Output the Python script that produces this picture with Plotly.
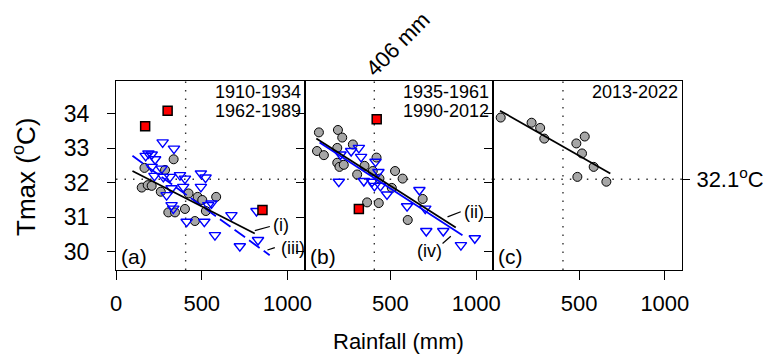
import plotly.graph_objects as go

# ---------------- data ----------------
# Panel (a): 1910-1934 (grey circles), 1962-1989 (blue triangles), outliers (red squares)
a_circ_x = [166, 150, 185, 208, 261, 336, 286, 305, 344, 402, 423, 476, 503, 524, 584, 460]
a_circ_y = [32.43, 31.86, 31.93, 31.91, 31.74, 32.68, 32.37, 31.14, 31.14, 31.24, 31.69, 31.59, 31.50, 31.18, 31.59, 30.89]
a_tri_x = [272, 338, 189, 208, 228, 173, 208, 266, 224, 276, 315, 373, 402, 495, 522, 495, 392, 324, 295, 324,
           334, 538, 557, 412, 515, 577, 673, 722, 828, 819]
a_tri_y = [33.17, 32.99, 32.85, 32.82, 32.68, 32.78, 32.46, 32.41, 32.20, 32.17, 32.17, 32.22, 32.12, 32.27, 32.15,
           31.88, 31.88, 31.84, 31.64, 31.35, 31.25, 31.35, 31.40, 30.87, 30.87, 30.48, 31.06, 30.16, 30.34, 31.18]
a_sq_x = [170, 301, 854]
a_sq_y = [33.64, 34.09, 31.21]
a_fit_i_x = [96, 809]
a_fit_i_y = [32.34, 30.53]
a_fit_iii_x = [96, 896]
a_fit_iii_y = [32.78, 29.90]

# Panel (b): 1935-1961 (grey circles), 1990-2012 (blue triangles)
b_circ_x = [83, 72, 112, 194, 219, 190, 281, 190, 203, 228, 306, 349, 397, 419, 436, 527, 571, 508, 364, 432, 688, 601]
b_circ_y = [33.46, 32.92, 32.80, 33.53, 33.31, 33.01, 33.11, 32.58, 32.46, 32.52, 32.24, 32.49, 32.34, 32.73, 32.12,
            32.34, 32.12, 31.85, 31.43, 31.41, 31.53, 30.92]
b_tri_x = [209, 271, 316, 329, 413, 199, 345, 393, 407, 442, 430, 480, 669, 597, 703, 709, 808, 911, 992]
b_tri_y = [32.82, 32.92, 33.01, 32.75, 32.61, 32.03, 32.05, 32.03, 31.91, 31.91, 32.31, 31.66, 31.79, 31.32, 31.25,
           30.60, 30.60, 30.19, 30.39]
b_sq_x = [420, 316]
b_sq_y = [33.84, 31.24]
b_fit_ii_x = [68, 881]
b_fit_ii_y = [33.28, 30.70]
b_fit_iv_x = [87, 920]
b_fit_iv_y = [33.17, 30.48]

# Panel (c): 2013-2022
c_circ_x = [43, 223, 273, 297, 484, 533, 517, 585, 490, 659]
c_circ_y = [33.89, 33.74, 33.59, 33.28, 33.14, 33.34, 32.85, 32.46, 32.17, 32.03]
c_fit_x = [39, 682]
c_fit_y = [34.09, 32.27]

rain_threshold = 406
tmax_threshold = 32.1
x_ticks_a = [0, 500, 1000]
x_ticks_bc = [500, 1000]
y_ticks = [30, 31, 32, 33, 34]
x_range = [0, 1100]
y_range = [29.47, 34.95]

FONT = "Arial"
GREY = "#a6a6a6"
BLUE = "#0000ff"
RED = "#ff0000"

fig = go.Figure()


def circles(x, y, xa, ya):
    fig.add_trace(go.Scatter(x=x, y=y, mode="markers", xaxis=xa, yaxis=ya, showlegend=False,
                             marker=dict(symbol="circle", size=9, color=GREY,
                                         line=dict(color="black", width=1))))


def triangles(x, y, xa, ya):
    fig.add_trace(go.Scatter(x=x, y=y, mode="markers", xaxis=xa, yaxis=ya, showlegend=False,
                             marker=dict(symbol="triangle-down-open", size=10, color=BLUE,
                                         line=dict(color=BLUE, width=1.4))))


def squares(x, y, xa, ya):
    fig.add_trace(go.Scatter(x=x, y=y, mode="markers", xaxis=xa, yaxis=ya, showlegend=False,
                             marker=dict(symbol="square", size=9, color=RED,
                                         line=dict(color="black", width=1.5))))


def fit(x, y, xa, ya, color, dash="solid"):
    fig.add_trace(go.Scatter(x=x, y=y, mode="lines", xaxis=xa, yaxis=ya, showlegend=False,
                             line=dict(color=color, width=1.8, dash=dash)))


# panel a
circles(a_circ_x, a_circ_y, "x", "y")
triangles(a_tri_x, a_tri_y, "x", "y")
fit(a_fit_iii_x, a_fit_iii_y, "x", "y", BLUE, "13px,5px")
fit(a_fit_i_x, a_fit_i_y, "x", "y", "black")
squares(a_sq_x, a_sq_y, "x", "y")
# panel b
circles(b_circ_x, b_circ_y, "x2", "y2")
triangles(b_tri_x, b_tri_y, "x2", "y2")
fit(b_fit_iv_x, b_fit_iv_y, "x2", "y2", BLUE)
fit(b_fit_ii_x, b_fit_ii_y, "x2", "y2", "black")
squares(b_sq_x, b_sq_y, "x2", "y2")
# panel c
circles(c_circ_x, c_circ_y, "x3", "y3")
fit(c_fit_x, c_fit_y, "x3", "y3", "black")

# invisible trace so the right-hand axis of panel c is drawn
fig.add_trace(go.Scatter(x=[0], y=[tmax_threshold], xaxis="x3", yaxis="y4", mode="markers",
                         marker=dict(opacity=0), showlegend=False, hoverinfo="skip"))

axis_common = dict(showline=True, mirror=True, linecolor="black", linewidth=1.3, automargin=False,
                   ticks="outside", tickwidth=1.3, tickcolor="black", showgrid=False, zeroline=False,
                   tickfont=dict(family=FONT, size=22, color="black"))
y_font = dict(family=FONT, size=23, color="black")

# the page body has an 8px margin, so the figure is 8px smaller than the window
fig.update_layout(
    width=763, height=350,
    margin=dict(l=108, r=89, t=73, b=88, autoexpand=False),
    paper_bgcolor="white", plot_bgcolor="white",
    font=dict(family=FONT, color="black"),
    xaxis=dict(domain=[0, 1 / 3], anchor="y", range=x_range, tickvals=x_ticks_a, ticklen=9,
               ticklabelstandoff=4, **axis_common),
    xaxis2=dict(domain=[1 / 3, 2 / 3], anchor="y2", range=x_range, tickvals=x_ticks_bc, ticklen=9,
                ticklabelstandoff=4, **axis_common),
    xaxis3=dict(domain=[2 / 3, 1], anchor="y3", range=x_range, tickvals=x_ticks_bc, ticklen=9,
                ticklabelstandoff=4, **axis_common),
    yaxis=dict(domain=[0, 1], anchor="x", range=y_range, tickvals=y_ticks, ticklen=8,
               ticklabelstandoff=13, **{**axis_common, "tickfont": y_font}),
    yaxis2=dict(domain=[0, 1], anchor="x2", range=y_range, tickvals=y_ticks, ticklen=8,
                showticklabels=False, **axis_common),
    yaxis3=dict(domain=[0, 1], anchor="x3", range=y_range, tickvals=y_ticks, ticklen=8,
                showticklabels=False, **axis_common),
    yaxis4=dict(overlaying="y3", side="right", anchor="x3", range=y_range, automargin=False,
                tickvals=[tmax_threshold], ticktext=["32.1<sup>o</sup>C"], ticks="outside", ticklen=7,
                tickwidth=1.3, tickcolor="black", showline=False, showgrid=False, zeroline=False,
                ticklabelstandoff=2, tickfont=dict(family=FONT, size=22, color="black")),
)

shapes = []
dot = dict(color="#333333", width=1.4, dash="1.5px,7px")
for xr, yr in [("x", "y"), ("x2", "y2"), ("x3", "y3")]:
    shapes.append(dict(type="line", xref=xr, yref=yr + " domain", x0=rain_threshold, x1=rain_threshold,
                       y0=0, y1=1, line=dot, layer="below"))
    shapes.append(dict(type="line", xref=xr + " domain", yref=yr, x0=0, x1=1,
                       y0=tmax_threshold, y1=tmax_threshold, line=dot, layer="below"))

# leader lines for the fit labels
leader = dict(color="black", width=1.2)
shapes += [
    dict(type="line", xref="x", yref="y", x0=809, y0=30.61, x1=897, y1=30.73, line=leader),
    dict(type="line", xref="x", yref="y", x0=883, y0=30.05, x1=926, y1=30.12, line=leader),
    dict(type="line", xref="x2", yref="y2", x0=833, y0=31.01, x1=910, y1=31.16, line=leader),
    dict(type="line", xref="x2", yref="y2", x0=804, y0=30.24, x1=852, y1=30.45, line=leader),
]
fig.update_layout(shapes=shapes)

ann = []
periods = [("x", "y", ["1910-1934", "1962-1989"]),
           ("x2", "y2", ["1935-1961", "1990-2012"]),
           ("x3", "y3", ["2013-2022"])]
for xr, yr, labels in periods:
    for i, lab in enumerate(labels):
        ann.append(dict(text=lab, xref=xr + " domain", yref=yr + " domain", x=1, y=0.941 - 0.1 * i,
                        xanchor="right", yanchor="middle", xshift=-2, showarrow=False,
                        font=dict(family=FONT, size=18, color="black")))
for xr, yr, lab in [("x", "y", "(a)"), ("x2", "y2", "(b)"), ("x3", "y3", "(c)")]:
    ann.append(dict(text=lab, xref=xr + " domain", yref=yr + " domain", x=0, y=0.073, xanchor="left",
                    yanchor="middle", xshift=3, showarrow=False, font=dict(family=FONT, size=21, color="black")))
for xr, yr, x, y, lab in [("x", "y", 902, 30.77, "(i)"), ("x", "y", 949, 30.10, "(iii)"),
                          ("x2", "y2", 920, 31.16, "(ii)"), ("x2", "y2", 643, 30.02, "(iv)")]:
    ann.append(dict(text=lab, xref=xr, yref=yr, x=x, y=y, xanchor="left", yanchor="middle", showarrow=False,
                    font=dict(family=FONT, size=18, color="black")))
# axis titles and threshold label
ann.append(dict(text="Tmax (<sup>o</sup>C)", xref="paper", yref="paper", x=-0.1626, y=0.492, textangle=-90,
                xanchor="center", yanchor="middle", showarrow=False, font=dict(family=FONT, size=26, color="black")))
ann.append(dict(text="Rainfall (mm)", xref="paper", yref="paper", x=0.4996, y=-0.376,
                xanchor="center", yanchor="middle", showarrow=False, font=dict(family=FONT, size=22, color="black")))
ann.append(dict(text="406 mm", xref="paper", yref="paper", x=0.4973, y=1.195, textangle=-45,
                xanchor="center", yanchor="middle", showarrow=False, font=dict(family=FONT, size=22, color="black")))
fig.update_layout(annotations=ann)

fig.write_html("out.html")
